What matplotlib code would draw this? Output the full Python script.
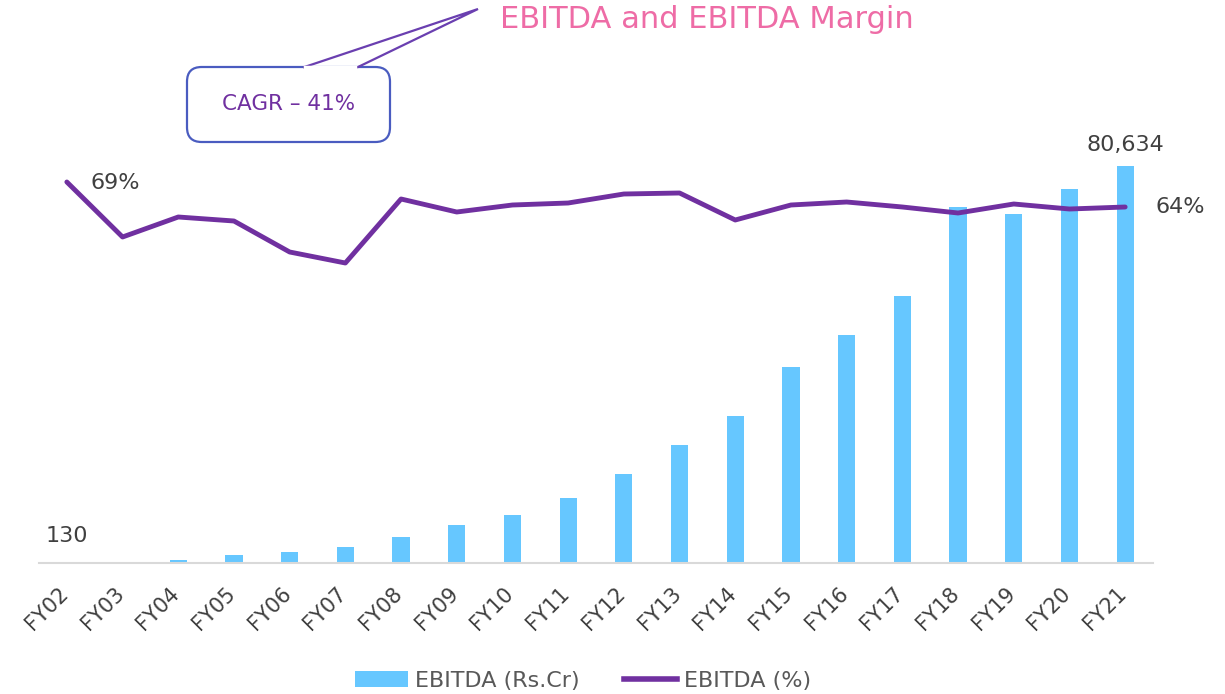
import numpy as np
import matplotlib
matplotlib.use("Agg")
import matplotlib.pyplot as plt
import matplotlib.transforms as mtransforms
from matplotlib.patches import FancyBboxPatch, Polygon
from matplotlib.lines import Line2D
from matplotlib.patches import Patch

plt.rcParams['font.family'] = ['DejaVu Sans']

# data
years = ["FY02", "FY03", "FY04", "FY05", "FY06", "FY07", "FY08", "FY09", "FY10", "FY11",
         "FY12", "FY13", "FY14", "FY15", "FY16", "FY17", "FY18", "FY19", "FY20", "FY21"]
ebitda = [130, 300, 600, 1600, 2200, 3300, 5300, 7700, 9700, 13200,
          18100, 24000, 29900, 39800, 46300, 54200, 72300, 70900, 76000, 80634]
margin = [69, 58, 62, 61.2, 55, 52.8, 65.6, 63, 64.4, 64.8,
          66.6, 66.8, 61.4, 64.4, 65, 64, 62.8, 64.6, 63.6, 64]

bar_col = "#66C7FF"
line_col = "#7030A0"
txt_col = "#404040"

W, H = 1225, 694
fig = plt.figure(figsize=(W / 100, H / 100), dpi=100)
# axes in pixel terms: left 39, right 1153, bottom 563, top 140
ax = fig.add_axes([39 / W, 1 - 563 / H, (1153 - 39) / W, (563 - 140) / H])
x = np.arange(len(years))
ax.bar(x, ebitda, width=0.31, color=bar_col, zorder=2)
ax.set_xlim(-0.5, len(years) - 0.5)
ax.set_ylim(0, 80634 * 423 / 397)
ax.set_yticks([])
for s in ["top", "right", "left"]:
    ax.spines[s].set_visible(False)
ax.spines["bottom"].set_color("#d9d9d9")
ax.spines["bottom"].set_linewidth(1.5)
ax.set_xticks(x)
ax.set_xticklabels(years, rotation=45, ha="right", va="top", rotation_mode="anchor",
                   fontsize=15, color=txt_col)
ax.tick_params(axis="x", length=0, pad=11)
shift = mtransforms.ScaledTranslation(-0.09, -0.05, fig.dpi_scale_trans)
for lab in ax.get_xticklabels():
    lab.set_transform(lab.get_transform() + shift)

ax2 = ax.twinx()
ax2.plot(x, margin, color=line_col, lw=3.5, solid_capstyle="round", zorder=3)
ax2.set_ylim(-7.2, 77.4)
ax2.axis("off")

ax.annotate(f"{ebitda[0]:,}", (x[0], ebitda[0]), xytext=(0, 12), textcoords="offset points",
            ha="center", va="bottom", fontsize=16, color=txt_col)
ax.annotate(f"{ebitda[-1]:,}", (x[-1], ebitda[-1]), xytext=(0, 8), textcoords="offset points",
            ha="center", va="bottom", fontsize=16, color=txt_col)
ax2.annotate(f"{margin[0]:.0f}%", (x[0], margin[0]), xytext=(17, -1), textcoords="offset points",
             ha="left", va="center", fontsize=16, color=txt_col)
ax2.annotate(f"{margin[-1]:.0f}%", (x[-1], margin[-1]), xytext=(22, 0), textcoords="offset points",
             ha="left", va="center", fontsize=16, color=txt_col)

# title
fig.text(500 / W, 1 - 19 / H, "EBITDA and EBITDA Margin", ha="left", va="center",
         fontsize=22, color="#EE6CA6")

# callout box with pointer
def fx(px):
    return px / W

def fy(py):
    return 1 - py / H

box = FancyBboxPatch((fx(187), fy(142)), fx(390) - fx(187), fy(67) - fy(142),
                     boxstyle="round,pad=0,rounding_size=0.012", transform=fig.transFigure,
                     facecolor="white", edgecolor="#4a5cc0", lw=1.6, mutation_aspect=W / H)
fig.patches.append(box)
ptr = Polygon([(fx(303), fy(67.5)), (fx(478), fy(9)), (fx(357), fy(67.5))], closed=False,
              transform=fig.transFigure, facecolor="none", edgecolor="#6a3fb0", lw=1.6)
fig.patches.append(ptr)
fig.lines.append(Line2D([fx(305), fx(355)], [fy(67), fy(67)], transform=fig.transFigure,
                        color="white", lw=2.5))
fig.text(fx(289), fy(104), "CAGR \u2013 41%", ha="center", va="center", fontsize=15.5,
         color=line_col)

# legend
handles = [Patch(facecolor=bar_col, label="EBITDA (Rs.Cr)"),
           Line2D([0], [0], color=line_col, lw=4, label="EBITDA (%)")]
fig.legend(handles=handles, loc="center", bbox_to_anchor=(583 / W, 1 - 681 / H), ncol=2,
           frameon=False, fontsize=16, labelcolor="#595959", handlelength=2.4,
           handletextpad=0.3, columnspacing=2.0)

fig.savefig("out.png", dpi=100)
